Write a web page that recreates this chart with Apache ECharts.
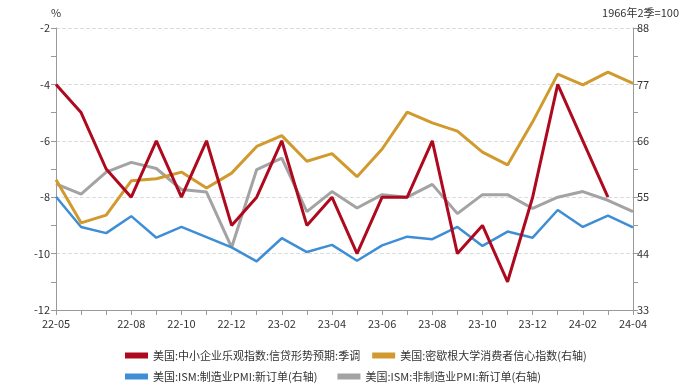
<!DOCTYPE html>
<html><head><meta charset="utf-8">
<script src="https://cdn.jsdelivr.net/npm/echarts@6/dist/echarts.min.js"></script>
<style>html,body{margin:0;padding:0;background:#fff}#c{width:684px;height:385px}</style>
</head><body><div id="c"></div>
<script>
const categories = ['22-05','22-06','22-07','22-08','22-09','22-10','22-11','22-12','23-01','23-02','23-03','23-04','23-05','23-06','23-07','23-08','23-09','23-10','23-11','23-12','24-01','24-02','24-03','24-04'];
const nfibCredit = [-4,-5,-7,-8,-6,-8,-6,-9,-8,-6,-9,-8,-10,-8,-8,-6,-10,-9,-11,-8,-4,-6,-8,null];
const umich = [58.4,50.0,51.5,58.2,58.6,59.9,56.8,59.7,64.9,67.0,62.0,63.5,59.0,64.4,71.6,69.5,67.9,63.8,61.3,69.7,79.0,76.9,79.4,77.2];
const ismMfgNewOrders = [55.1,49.2,48.0,51.3,47.1,49.2,47.2,45.2,42.5,47.0,44.3,45.7,42.6,45.6,47.3,46.8,49.2,45.5,48.3,47.1,52.5,49.2,51.4,49.1];
const ismSvcNewOrders = [57.6,55.6,59.9,61.8,60.6,56.5,56.0,45.2,60.4,62.6,52.2,56.1,52.9,55.5,55.0,57.5,51.8,55.5,55.5,52.8,55.0,56.1,54.4,52.2];
const names = ['美国:中小企业乐观指数:信贷形势预期:季调','美国:密歇根大学消费者信心指数(右轴)','美国:ISM:制造业PMI:新订单(右轴)','美国:ISM:非制造业PMI:新订单(右轴)'];
const colors = ['#AE0A1F','#D19A2F','#3E8ED6','#A3A3A3'];

const font = '"Noto Sans CJK SC", "Noto Sans", sans-serif';
const chart = echarts.init(document.getElementById('c'));
const axisColor = '#9a9a9a';
chart.setOption({
  animation:false,
  textStyle:{fontFamily:font},
  grid:{left:56,right:51,top:28,bottom:75},
  legend:[
    {data:[names[0],names[1]],left:120,top:345,itemWidth:23,itemHeight:6,itemGap:12,icon:'rect',textStyle:{fontSize:11,color:'#333',fontFamily:font}},
    {data:[names[2],names[3]],left:120,top:366,itemWidth:23,itemHeight:6,itemGap:20,icon:'rect',textStyle:{fontSize:11,color:'#333',fontFamily:font}}
  ],
  xAxis:{type:'category',data:categories,boundaryGap:false,
    axisLine:{lineStyle:{color:axisColor}},
    axisTick:{interval:0,length:5,lineStyle:{color:axisColor}},
    splitLine:{show:false},
    axisLabel:{interval:(i)=> i===0 || (i>=3 && i%2===1),color:'#333',fontSize:11,margin:8,fontFamily:font}
  },
  yAxis:[
    {type:'value',min:-12,max:-2,interval:2,name:'%',nameGap:10,nameTextStyle:{color:'#333',fontSize:11,align:'center'},
      axisLine:{show:true,lineStyle:{color:axisColor}},
      axisTick:{show:true,length:5,lineStyle:{color:axisColor}},
      minorTick:{show:true,splitNumber:2,length:5,lineStyle:{color:axisColor}},
      axisLabel:{color:'#333',fontSize:11,margin:6,fontFamily:font},
      splitLine:{show:true,lineStyle:{color:'#dcdcdc',type:'dashed'}}
    },
    {type:'value',min:33,max:88,interval:11,name:'1966年2季=100',nameGap:10,nameTextStyle:{color:'#333',fontSize:11,align:'right',padding:[0,-46,0,0]},
      axisLine:{show:true,lineStyle:{color:axisColor}},
      axisTick:{show:true,length:5,lineStyle:{color:axisColor}},
      minorTick:{show:true,splitNumber:2,length:5,lineStyle:{color:axisColor}},
      axisLabel:{color:'#333',fontSize:11,margin:4,fontFamily:font},
      splitLine:{show:false}
    }
  ],
  series:[
    {name:names[0],type:'line',yAxisIndex:0,data:nfibCredit,symbol:'none',lineStyle:{width:3,color:colors[0]},itemStyle:{color:colors[0]},z:5},
    {name:names[1],type:'line',yAxisIndex:1,data:umich,symbol:'none',lineStyle:{width:3,color:colors[1]},itemStyle:{color:colors[1]},z:4},
    {name:names[2],type:'line',yAxisIndex:1,data:ismMfgNewOrders,symbol:'none',lineStyle:{width:2.5,color:colors[2]},itemStyle:{color:colors[2]},z:3},
    {name:names[3],type:'line',yAxisIndex:1,data:ismSvcNewOrders,symbol:'none',lineStyle:{width:3,color:colors[3]},itemStyle:{color:colors[3]},z:2}
  ]
});
</script></body></html>
